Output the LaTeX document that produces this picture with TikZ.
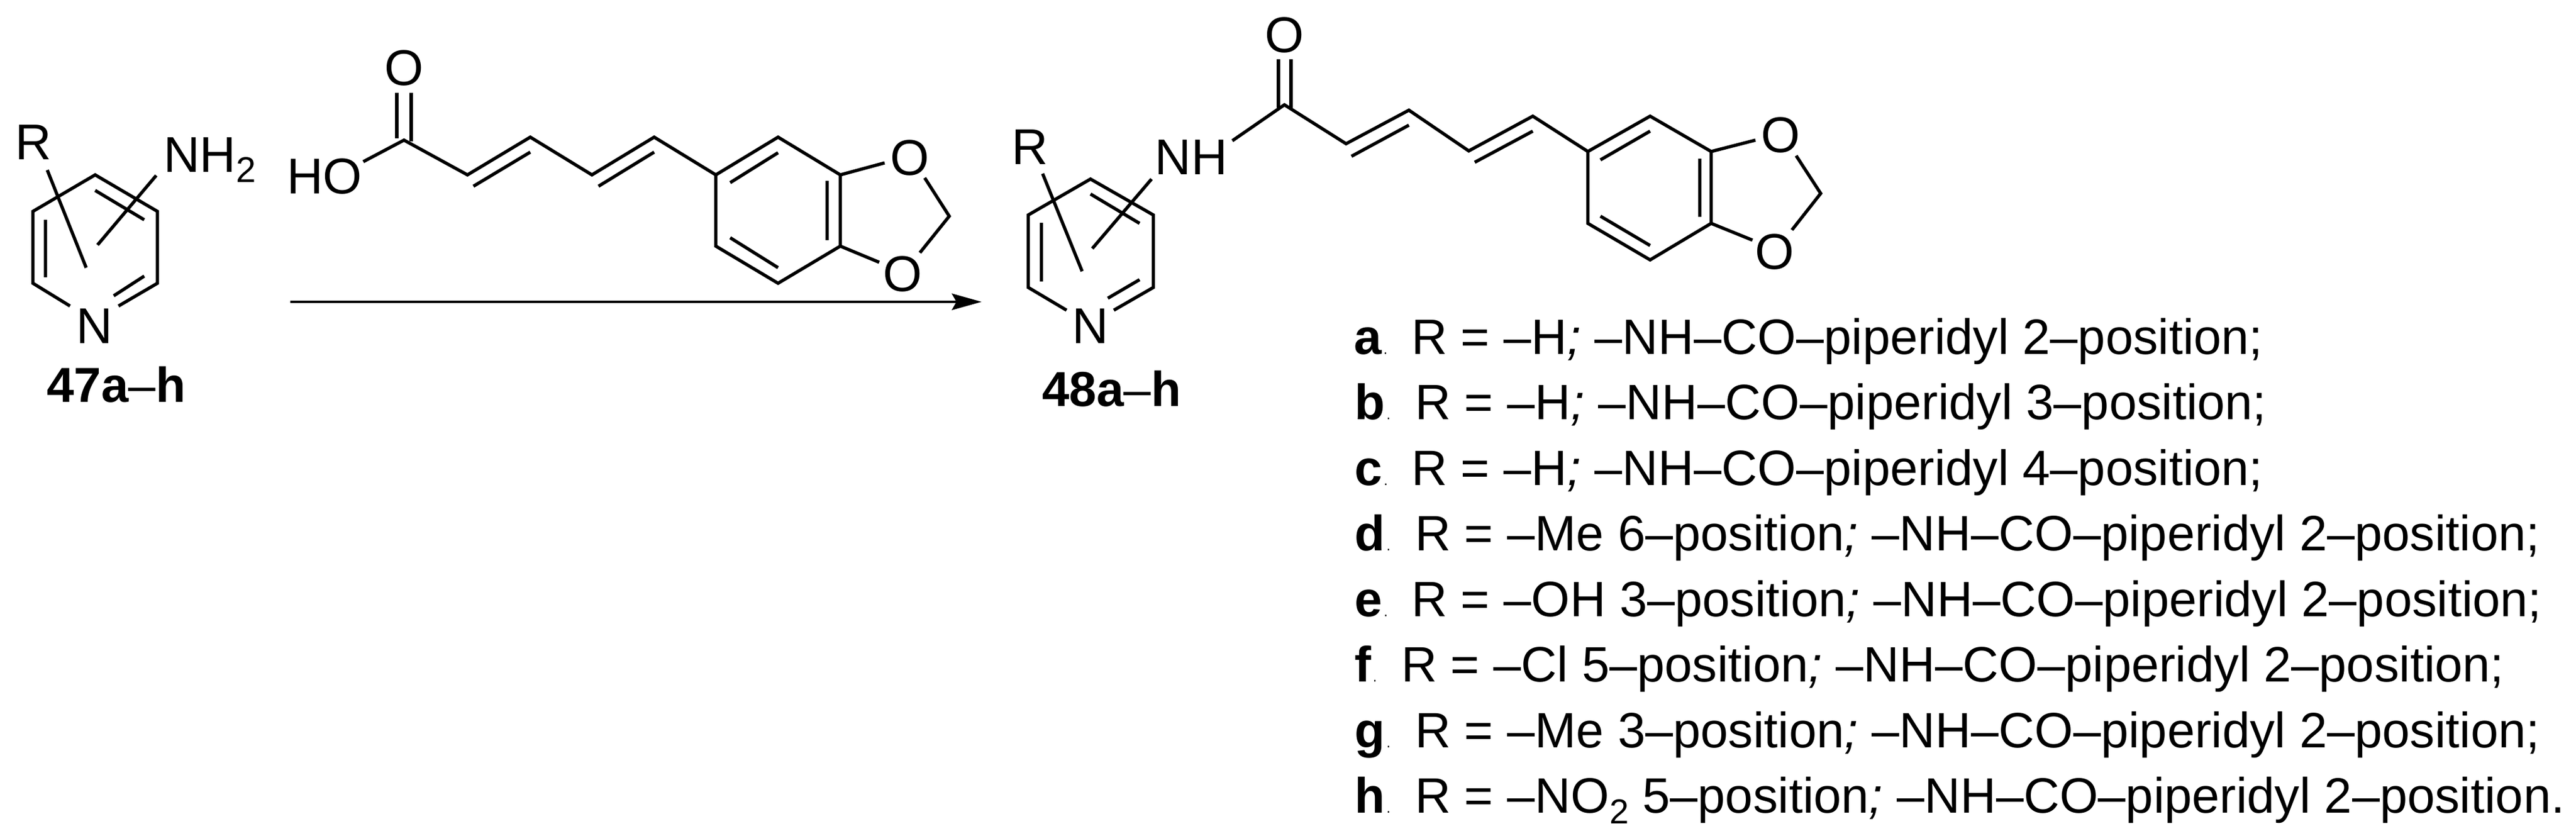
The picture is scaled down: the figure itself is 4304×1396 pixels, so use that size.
\documentclass[tikz,border=0pt]{standalone}
\usepackage{fontspec}
\setmainfont{Liberation Sans}
\tikzset{
  bond/.style={line width=2.7pt,line join=miter,miter limit=10,line cap=butt},
  atom/.style={inner sep=0pt,outer sep=0pt,font=\fontsize{42}{50}\selectfont},
  cpd/.style={inner sep=0pt,outer sep=0pt,anchor=base west,font=\fontsize{41}{48}\selectfont\bfseries},
  item/.style={inner sep=0pt,outer sep=0pt,anchor=base west,font=\fontsize{41.5}{48}\selectfont},
}
\newcommand{\tinydot}{\hspace{1.5pt}{\fontsize{12}{12}\selectfont\mdseries .}}
\newcommand{\semi}{{\itshape ;}}
\newcommand{\thindash}{{\mdseries –}}
\begin{document}
\begin{tikzpicture}[x=0.5pt,y=-0.5pt]
\useasboundingbox (0,0) rectangle (4304,1396);
% --- left pyridine
\coordinate (a1) at (159,292); \coordinate (a2) at (263,353); \coordinate (a3) at (263,473);
\coordinate (a4) at (198,511); \coordinate (a5) at (117,511); \coordinate (a6) at (55,473); \coordinate (a7) at (55,353);
\draw[bond] (a4)--(a3)--(a2)--(a1)--(a7)--(a6)--(a5);
\draw[bond] (159,318)--(241,367) (76,367)--(76,463) (241,461)--(190,494);
\node[atom] (nl) at (158,545) {N};
\node[atom] (rl) at (56,238) {R};
\node[atom,anchor=base west] (nh2) at (273,287) {NH\raisebox{-9pt}{\fontsize{30}{30}\selectfont 2}};
\coordinate (rle) at (144,447); \coordinate (rls) at (79,284);
\coordinate (nle) at (163,409); \coordinate (nls) at (261,293);
\draw[bond] (rls)--(rle) (nls)--(nle);
\node[cpd] (c47) at (78,671) {47a\thindash h};
% --- acid
\node[atom] (ho) at (542,295) {HO};
\node[atom] (o1) at (675,114) {O};
\coordinate (c1) at (675,234); \coordinate (hoe) at (607,270);
\coordinate (b1) at (781,292); \coordinate (b2) at (886,229); \coordinate (b3) at (989,292); \coordinate (b4) at (1093,229);
\coordinate (r1) at (1196,292); \coordinate (r2) at (1300,229); \coordinate (r3) at (1404,292);
\coordinate (r4) at (1404,411); \coordinate (r5) at (1300,473); \coordinate (r6) at (1196,411);
\draw[bond] (hoe)--(c1)--(b1)--(b2)--(b3)--(b4)--(r1);
\draw[bond] (r1)--(r2)--(r3)--(r4)--(r5)--(r6)--cycle;
\draw[bond] (663,155)--(663,231) (687,155)--(687,236);
\draw[bond] (791,311)--(886,254) (1000,311)--(1093,254);
\draw[bond] (1220,305)--(1300,255) (1382,302)--(1382,401) (1220,397)--(1300,447);
\node[atom] (o2) at (1520,264) {O};
\node[atom] (o3) at (1508,458) {O};
\coordinate (m1) at (1586,361);
\draw[bond] (r3)--(1478,272) (r4)--(1469,438);
\draw[bond] (1545,297)--(m1)--(1537,422);
% --- arrow
\coordinate (as) at (485,504); \coordinate (at) at (1640,504);
\draw[line width=2.4pt] (as)--(1600,504);
\fill (at)--(1590,490)--(1598,504)--(1590,518)--cycle;
% --- right pyridine
\coordinate (p1) at (1822,299); \coordinate (p2) at (1927,359); \coordinate (p3) at (1927,480);
\coordinate (p4) at (1861,518); \coordinate (p5) at (1782,518); \coordinate (p6) at (1718,480); \coordinate (p7) at (1718,359);
\draw[bond] (p4)--(p3)--(p2)--(p1)--(p7)--(p6)--(p5);
\draw[bond] (1822,324)--(1904,373) (1740,372)--(1740,470) (1904,467)--(1851,498);
\node[atom] (nr) at (1822,545) {N};
\node[atom] (rr) at (1721,246) {R};
\node[atom] (nh) at (1990,263) {NH};
\draw[bond] (1742,290)--(1808,453) (1924,299)--(1825,415);
\node[cpd] (c48) at (1741,678) {48a\thindash h};
% --- amide chain
\node[atom] (o4) at (2146,59) {O};
\coordinate (c2) at (2146,175); \coordinate (nhe) at (2059,235);
\coordinate (d1) at (2249,240); \coordinate (d2) at (2354,184); \coordinate (d3) at (2454,252); \coordinate (d4) at (2561,194);
\coordinate (s1) at (2653,253); \coordinate (s2) at (2757,194); \coordinate (s3) at (2859,253);
\coordinate (s4) at (2859,373); \coordinate (s5) at (2757,434); \coordinate (s6) at (2653,373);
\draw[bond] (nhe)--(c2)--(d1)--(d2)--(d3)--(d4)--(s1);
\draw[bond] (s1)--(s2)--(s3)--(s4)--(s5)--(s6)--cycle;
\draw[bond] (2136,99)--(2136,180) (2157,99)--(2157,181);
\draw[bond] (2258,261)--(2354,209) (2464,271)--(2561,219);
\draw[bond] (2674,267)--(2757,219) (2840,265)--(2840,362) (2674,361)--(2757,410);
\node[atom] (o5) at (2975,226) {O};
\node[atom] (o6) at (2965,421) {O};
\coordinate (m2) at (3042,323);
\draw[bond] (s3)--(2933,234) (s4)--(2928,401);
\draw[bond] (3001,260)--(m2)--(2994,384);
% --- list
\node[item] (la) at (2262,591) {\textbf{a}\tinydot};
\node[item] (ta) at (2358,591) {R = –H\semi{} –NH–CO–piperidyl 2–position;};
\node[item] (lb) at (2263,700) {\textbf{b}\tinydot};
\node[item] (tb) at (2364,700) {R = –H\semi{} –NH–CO–piperidyl 3–position;};
\node[item] (lc) at (2263,810) {\textbf{c}\tinydot};
\node[item] (tc) at (2358,810) {R = –H\semi{} –NH–CO–piperidyl 4–position;};
\node[item] (ld) at (2263,919) {\textbf{d}\tinydot};
\node[item] (td) at (2364,919) {R = –Me 6–position\semi{} –NH–CO–piperidyl 2–position;};
\node[item] (le) at (2263,1029) {\textbf{e}\tinydot};
\node[item] (te) at (2358,1029) {R = –OH 3–position\semi{} –NH–CO–piperidyl 2–position;};
\node[item] (lf) at (2263,1138) {\textbf{f}\tinydot};
\node[item] (tf) at (2341,1138) {R = –Cl 5–position\semi{} –NH–CO–piperidyl 2–position;};
\node[item] (lg) at (2263,1248) {\textbf{g}\tinydot};
\node[item] (tg) at (2364,1248) {R = –Me 3–position\semi{} –NH–CO–piperidyl 2–position;};
\node[item] (lh) at (2263,1357) {\textbf{h}\tinydot};
\node[item] (th) at (2364,1357) {R = –NO\raisebox{-9pt}{\fontsize{29}{29}\selectfont 2} 5–position\semi{} –NH–CO–piperidyl 2–position.};
\end{tikzpicture}
\end{document}
